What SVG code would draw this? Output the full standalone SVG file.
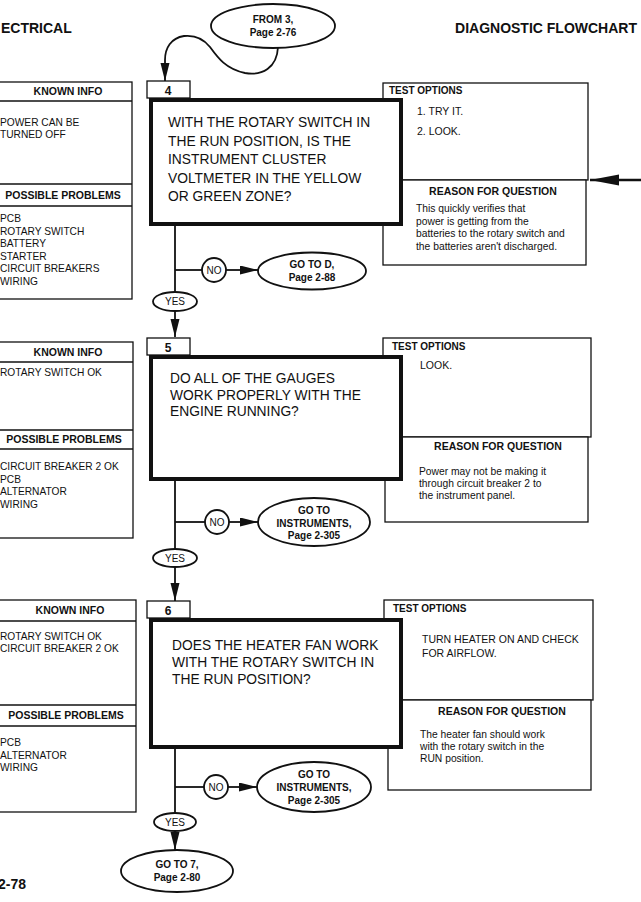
<svg xmlns="http://www.w3.org/2000/svg" width="641" height="902" viewBox="0 0 641 902">
<style>
text{font-family:"Liberation Sans",Arial,sans-serif;fill:#111}
.hdr{font-size:14px;font-weight:bold}
.ph{font-size:10.5px;font-weight:bold;text-anchor:middle}
.pt{font-size:10.2px}
.th{font-size:10px;font-weight:bold}
.tt{font-size:10.5px}
.rt{font-size:10.3px}
.q{font-size:13.8px}
.num{font-size:12px;font-weight:bold;text-anchor:middle}
.ov{font-size:10px;font-weight:bold;text-anchor:middle}
.lb{font-size:10px;text-anchor:middle}
.box{fill:#fff;stroke:#111;stroke-width:1.3}
.thick{fill:#fff;stroke:#111;stroke-width:4}
.ln{fill:none;stroke:#111;stroke-width:1.8}
.sep{stroke:#111;stroke-width:1.3}
.oval{fill:#fff;stroke:#111;stroke-width:1.8}
</style>
<defs>
<marker id="ah" markerUnits="userSpaceOnUse" markerWidth="19" markerHeight="10" refX="18" refY="4.5" orient="auto">
<path d="M0,0 L18,4.5 L0,9 z" fill="#111"/>
</marker>
<marker id="big" markerUnits="userSpaceOnUse" markerWidth="30" markerHeight="12" refX="29" refY="5.5" orient="auto">
<path d="M0,0 L29,5.5 L0,11 z" fill="#111"/>
</marker>
</defs>
<rect width="641" height="902" fill="#fff"/>

<g id="page-header">
<text class="hdr" x="1" y="33">ECTRICAL</text>
<text class="hdr" x="637" y="33" text-anchor="end">DIAGNOSTIC FLOWCHART</text>
<text class="hdr" x="-2" y="889">2-78</text>
</g>

<!-- left panels -->
<g id="info4">
<rect class="box" x="-10" y="82" width="142" height="217"/>
<line class="sep" x1="-10" y1="101" x2="132" y2="101"/>
<line class="sep" x1="-10" y1="184" x2="132" y2="184"/>
<line class="sep" x1="-10" y1="206" x2="132" y2="206"/>
<text class="ph" x="68" y="95">KNOWN INFO</text>
<text class="pt" x="0" y="126">POWER CAN BE</text>
<text class="pt" x="0" y="138">TURNED OFF</text>
<text class="ph" x="63" y="199">POSSIBLE PROBLEMS</text>
<text class="pt" x="0" y="222">PCB</text>
<text class="pt" x="0" y="234.6">ROTARY SWITCH</text>
<text class="pt" x="0" y="247.2">BATTERY</text>
<text class="pt" x="0" y="259.8">STARTER</text>
<text class="pt" x="0" y="272.4">CIRCUIT BREAKERS</text>
<text class="pt" x="0" y="285">WIRING</text>
</g>
<g id="info5">
<rect class="box" x="-10" y="342" width="143" height="196"/>
<line class="sep" x1="-10" y1="362" x2="133" y2="362"/>
<line class="sep" x1="-10" y1="430" x2="133" y2="430"/>
<line class="sep" x1="-10" y1="449" x2="133" y2="449"/>
<text class="ph" x="68" y="356">KNOWN INFO</text>
<text class="pt" x="0" y="376">ROTARY SWITCH OK</text>
<text class="ph" x="64" y="443">POSSIBLE PROBLEMS</text>
<text class="pt" x="0" y="470">CIRCUIT BREAKER 2 OK</text>
<text class="pt" x="0" y="482.5">PCB</text>
<text class="pt" x="0" y="495">ALTERNATOR</text>
<text class="pt" x="0" y="507.5">WIRING</text>
</g>
<g id="info6">
<rect class="box" x="-10" y="600" width="146" height="212"/>
<line class="sep" x1="-10" y1="621" x2="136" y2="621"/>
<line class="sep" x1="-10" y1="705" x2="136" y2="705"/>
<line class="sep" x1="-10" y1="726" x2="136" y2="726"/>
<text class="ph" x="70" y="614">KNOWN INFO</text>
<text class="pt" x="0" y="640">ROTARY SWITCH OK</text>
<text class="pt" x="0" y="652">CIRCUIT BREAKER 2 OK</text>
<text class="ph" x="66" y="719">POSSIBLE PROBLEMS</text>
<text class="pt" x="0" y="746">PCB</text>
<text class="pt" x="0" y="758.5">ALTERNATOR</text>
<text class="pt" x="0" y="771">WIRING</text>
</g>

<!-- right panels -->
<g id="test4">
<rect class="box" x="383" y="83" width="205" height="97"/>
<rect class="box" x="383" y="180" width="203" height="85"/>
<text class="th" x="389" y="94">TEST OPTIONS</text>
<text class="tt" x="417" y="115">1. TRY IT.</text>
<text class="tt" x="417" y="135">2. LOOK.</text>
<text class="ph" x="493" y="195">REASON FOR QUESTION</text>
<text class="rt" x="416" y="212">This quickly verifies that</text>
<text class="rt" x="416" y="224.5">power is getting from the</text>
<text class="rt" x="416" y="237">batteries to the rotary switch and</text>
<text class="rt" x="416" y="249.5">the batteries aren't discharged.</text>
</g>
<g id="test5">
<rect class="box" x="383" y="338" width="208" height="99"/>
<rect class="box" x="385" y="437" width="203" height="85"/>
<text class="th" x="392" y="350">TEST OPTIONS</text>
<text class="tt" x="420" y="369">LOOK.</text>
<text class="ph" x="498" y="450">REASON FOR QUESTION</text>
<text class="rt" x="419" y="475">Power may not be making it</text>
<text class="rt" x="419" y="487">through circuit breaker 2 to</text>
<text class="rt" x="419" y="499">the instrument panel.</text>
</g>
<g id="test6">
<rect class="box" x="384" y="600" width="209" height="100"/>
<rect class="box" x="388" y="700" width="203" height="90"/>
<text class="th" x="393" y="612">TEST OPTIONS</text>
<text class="tt" x="422" y="643">TURN HEATER ON AND CHECK</text>
<text class="tt" x="422" y="657">FOR AIRFLOW.</text>
<text class="ph" x="502" y="715">REASON FOR QUESTION</text>
<text class="rt" x="420" y="738">The heater fan should work</text>
<text class="rt" x="420" y="750">with the rotary switch in the</text>
<text class="rt" x="420" y="762">RUN position.</text>
</g>

<!-- connectors -->
<g id="connectors">
<path class="ln" d="M278,47 C277,68 262,76 245,73 C226,69 218,58 210,47 C203,38 194,35 184,36 C171,38 165,48 165,60 L165,81" marker-end="url(#ah)"/>
<line class="ln" x1="175" y1="226" x2="175" y2="292"/>
<line class="ln" x1="175" y1="270" x2="202" y2="270"/>
<line class="ln" x1="226" y1="270" x2="258" y2="270" marker-end="url(#ah)"/>
<line class="ln" x1="175" y1="311" x2="175" y2="337" marker-end="url(#ah)"/>
<line class="ln" x1="175" y1="481" x2="175" y2="549"/>
<line class="ln" x1="175" y1="522" x2="205" y2="522"/>
<line class="ln" x1="229" y1="522" x2="258" y2="522" marker-end="url(#ah)"/>
<line class="ln" x1="175" y1="567" x2="175" y2="601" marker-end="url(#ah)"/>
<line class="ln" x1="175" y1="749" x2="175" y2="813"/>
<line class="ln" x1="175" y1="787" x2="204" y2="787"/>
<line class="ln" x1="228" y1="787" x2="257" y2="787" marker-end="url(#ah)"/>
<line class="ln" x1="175" y1="831" x2="175" y2="850" marker-end="url(#ah)"/>
<line class="ln" style="stroke-width:2.6" x1="641" y1="180" x2="590" y2="180" marker-end="url(#big)"/>
</g>

<g id="from3">
<ellipse class="oval" cx="273" cy="26" rx="62" ry="22"/>
<text class="ov" x="273" y="23">FROM 3,</text>
<text class="ov" x="273" y="36">Page 2-76</text>
</g>

<g id="q4">
<rect class="box" x="147" y="81" width="43" height="17"/>
<text class="num" x="168" y="95">4</text>
<rect class="thick" x="151" y="100" width="250" height="124"/>
<text class="q" x="168" y="127">WITH THE ROTARY SWITCH IN</text>
<text class="q" x="168" y="145.5">THE RUN POSITION, IS THE</text>
<text class="q" x="168" y="164">INSTRUMENT CLUSTER</text>
<text class="q" x="168" y="182.5">VOLTMETER IN THE YELLOW</text>
<text class="q" x="168" y="201">OR GREEN ZONE?</text>
</g>
<g id="no4"><circle class="oval" cx="214" cy="270" r="12"/><text class="lb" x="214" y="274">NO</text></g>
<g id="gotoD"><ellipse class="oval" cx="312" cy="271" rx="54" ry="18.5"/>
<text class="ov" x="312" y="268">GO TO D,</text><text class="ov" x="312" y="281">Page 2-88</text></g>
<g id="yes4"><ellipse class="oval" cx="175" cy="301.5" rx="22" ry="9.5"/><text class="lb" x="175" y="305">YES</text></g>

<g id="q5">
<rect class="box" x="147" y="338" width="43" height="17"/>
<text class="num" x="168" y="352">5</text>
<rect class="thick" x="151" y="357" width="250" height="122"/>
<text class="q" x="170" y="383">DO ALL OF THE GAUGES</text>
<text class="q" x="170" y="399.5">WORK PROPERLY WITH THE</text>
<text class="q" x="170" y="416">ENGINE RUNNING?</text>
</g>
<g id="no5"><circle class="oval" cx="217" cy="522" r="12"/><text class="lb" x="217" y="526">NO</text></g>
<g id="gotoInstr5"><ellipse class="oval" cx="314" cy="522" rx="56" ry="24"/>
<text class="ov" x="314" y="514">GO TO</text><text class="ov" x="314" y="526.5">INSTRUMENTS,</text><text class="ov" x="314" y="539">Page 2-305</text></g>
<g id="yes5"><ellipse class="oval" cx="175" cy="558" rx="22" ry="9"/><text class="lb" x="175" y="561.5">YES</text></g>

<g id="q6">
<rect class="box" x="147" y="601" width="43" height="17"/>
<text class="num" x="168" y="615">6</text>
<rect class="thick" x="151" y="620" width="250" height="127"/>
<text class="q" x="172" y="650">DOES THE HEATER FAN WORK</text>
<text class="q" x="172" y="667">WITH THE ROTARY SWITCH IN</text>
<text class="q" x="172" y="684">THE RUN POSITION?</text>
</g>
<g id="no6"><circle class="oval" cx="216" cy="787" r="12"/><text class="lb" x="216" y="791">NO</text></g>
<g id="gotoInstr6"><ellipse class="oval" cx="314" cy="787" rx="57" ry="25"/>
<text class="ov" x="314" y="778">GO TO</text><text class="ov" x="314" y="791">INSTRUMENTS,</text><text class="ov" x="314" y="803.5">Page 2-305</text></g>
<g id="yes6"><ellipse class="oval" cx="175" cy="822" rx="21" ry="9"/><text class="lb" x="175" y="825.5">YES</text></g>
<g id="goto7"><ellipse class="oval" cx="177" cy="871" rx="56" ry="21"/>
<text class="ov" x="177" y="868">GO TO 7,</text><text class="ov" x="177" y="881">Page 2-80</text></g>
</svg>
